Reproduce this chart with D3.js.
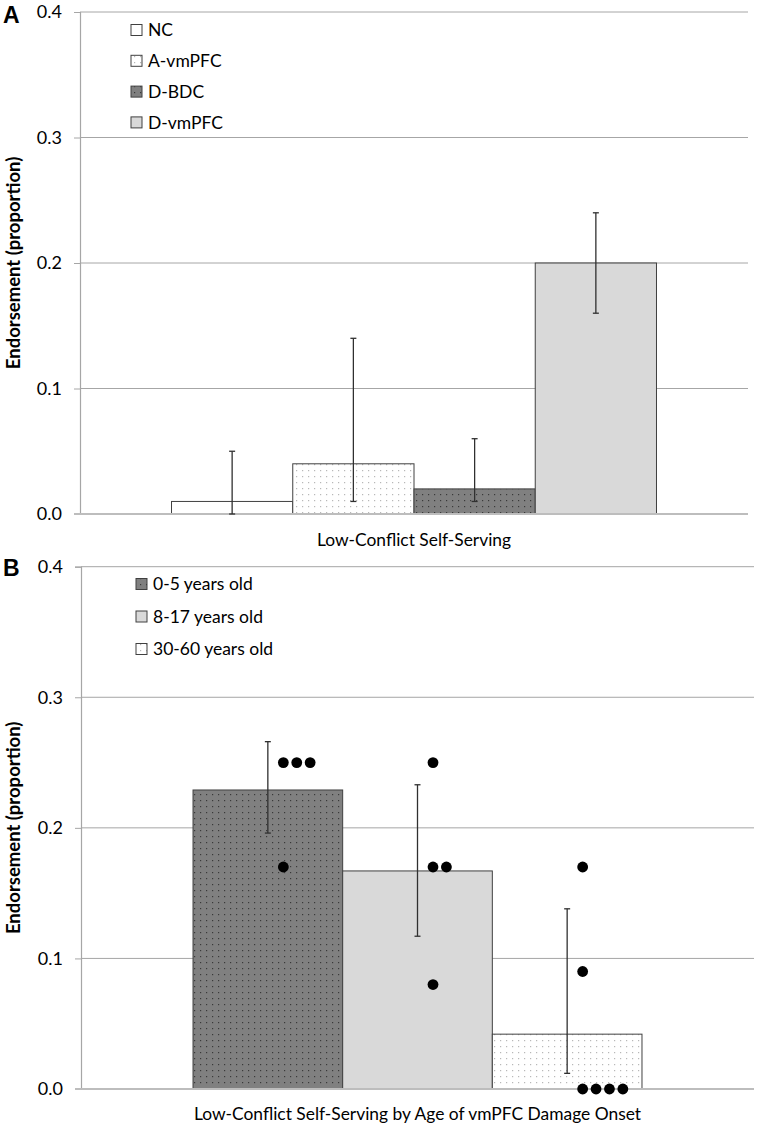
<!DOCTYPE html>
<html><head><meta charset="utf-8">
<script src="https://cdn.jsdelivr.net/npm/d3@7"></script>
<style>body{margin:0;background:#fff}svg{display:block}</style>
</head><body>
<script>
// ---------- DATA ----------
const yTicks = [0.0, 0.1, 0.2, 0.3, 0.4];
const categoryA = ["Low-Conflict Self-Serving"];
const groupsA = ["NC", "A-vmPFC", "D-BDC", "D-vmPFC"];
const valuesA = [0.01, 0.04, 0.02, 0.20];
const errLowA = [0.00, 0.01, 0.01, 0.16];
const errHighA = [0.05, 0.14, 0.06, 0.24];

const categoryB = ["Low-Conflict Self-Serving by Age of vmPFC Damage Onset"];
const groupsB = ["0-5 years old", "8-17 years old", "30-60 years old"];
const valuesB = [0.229, 0.167, 0.042];
const errLowB = [0.196, 0.117, 0.012];
const errHighB = [0.266, 0.233, 0.138];
const pointsB0 = [0.25, 0.25, 0.25, 0.17];
const pointsB1 = [0.25, 0.17, 0.17, 0.08];
const pointsB2 = [0.17, 0.09, 0, 0, 0, 0];

// ---------- SETUP ----------
const W = 759, H = 1138;
const FONT = "Lato, 'Open Sans', sans-serif";
const svg = d3.select("body").append("svg").attr("width", W).attr("height", H);

const defs = svg.append("defs");
function dotPattern(id, bg, dot) {
  const p = defs.append("pattern").attr("id", id).attr("patternUnits", "userSpaceOnUse")
    .attr("width", 6).attr("height", 6);
  p.append("rect").attr("width", 6).attr("height", 6).attr("fill", bg);
  p.append("rect").attr("x", 2).attr("y", 2).attr("width", 1.2).attr("height", 1.2).attr("fill", dot);
}
dotPattern("dotsLight", "#ffffff", "#b8b8b8");
dotPattern("dotsDark", "#808080", "#3a3a3a");

const fillsA = ["#ffffff", "url(#dotsLight)", "url(#dotsDark)", "#d9d9d9"];
const fillsB = ["url(#dotsDark)", "#d9d9d9", "url(#dotsLight)"];

function panel(opts) {
  const g = svg.append("g");
  const y = d3.scaleLinear().domain([0, 0.4]).range([opts.y0, opts.y1]);
  const x0 = d3.scaleBand().domain(opts.category).range([opts.xl, opts.xr])
    .paddingInner(0).paddingOuter(opts.outer);
  const x1 = d3.scaleBand().domain(opts.groups).range([0, x0.bandwidth()]).padding(0);
  const cat = opts.category[0];

  // gridlines
  g.append("g").selectAll("line").data(yTicks.filter(t => t > 0)).join("line")
    .attr("x1", opts.xl).attr("x2", opts.xr)
    .attr("y1", d => y(d)).attr("y2", d => y(d))
    .attr("stroke", "#a6a6a6").attr("stroke-width", 1);

  // y axis
  const yAxis = d3.axisLeft(y).tickValues(yTicks).tickFormat(d3.format(".1f")).tickSize(6).tickPadding(12);
  const ax = g.append("g").attr("transform", `translate(${opts.xl},0)`).call(yAxis);
  ax.select(".domain").attr("stroke", "#a6a6a6").attr("stroke-width", 1.2);
  ax.selectAll(".tick line").attr("stroke", "#a6a6a6");
  ax.selectAll(".tick text").attr("font-family", FONT).attr("font-size", 18).attr("fill", "#000");

  // bars
  g.append("g").selectAll("rect").data(opts.values).join("rect")
    .attr("x", (d, i) => x0(cat) + x1(opts.groups[i]))
    .attr("width", x1.bandwidth())
    .attr("y", d => y(d))
    .attr("height", d => y(0) - y(d))
    .attr("fill", (d, i) => opts.fills[i])
    .attr("stroke", "#404040").attr("stroke-width", 1);

  // baseline
  g.append("line").attr("x1", opts.xl - 6).attr("x2", opts.xr)
    .attr("y1", y(0)).attr("y2", y(0))
    .attr("stroke", "#bdbdbd").attr("stroke-width", 2);

  // error bars
  const eg = g.append("g").attr("stroke", "#303030").attr("stroke-width", 1.3);
  opts.values.forEach((v, i) => {
    const cx = x0(cat) + x1(opts.groups[i]) + x1.bandwidth() / 2;
    const lo = y(opts.errLow[i]), hi = y(opts.errHigh[i]);
    eg.append("line").attr("x1", cx).attr("x2", cx).attr("y1", lo).attr("y2", hi);
    eg.append("line").attr("x1", cx - 3).attr("x2", cx + 3).attr("y1", hi).attr("y2", hi);
    eg.append("line").attr("x1", cx - 3).attr("x2", cx + 3).attr("y1", lo).attr("y2", lo);
  });

  // points
  if (opts.points) {
    const pg = g.append("g");
    opts.points.forEach((arr, i) => {
      const cx = x0(cat) + x1(opts.groups[i]) + x1.bandwidth() / 2;
      const counts = {};
      arr.forEach(v => {
        const k = v.toFixed(3);
        const idx = counts[k] || 0;
        counts[k] = idx + 1;
        pg.append("circle").attr("cx", cx + 15.5 + idx * 13.4).attr("cy", y(v))
          .attr("r", 5.4).attr("fill", "#000");
      });
    });
  }

  // x label
  g.append("text").attr("x", x0(cat) + x0.bandwidth() / 2).attr("y", opts.xlabelY)
    .attr("text-anchor", "middle").attr("font-family", FONT).attr("font-size", 17.4)
    .text(cat);

  // y label
  g.append("text").attr("transform", `translate(${opts.ylabelX},${(opts.y0 + opts.y1) / 2}) rotate(-90)`)
    .attr("text-anchor", "middle").attr("font-family", FONT).attr("font-size", 18.5)
    .attr("font-weight", "bold").text("Endorsement (proportion)");

  // panel letter
  g.append("text").attr("x", 3).attr("y", opts.letterY).attr("font-family", "'Liberation Sans', Arial, sans-serif")
    .attr("font-size", 23).attr("font-weight", "bold").text(opts.letter);

  // legend
  const lg = g.append("g");
  opts.groups.forEach((name, i) => {
    const cy = opts.legY + i * opts.legStep;
    lg.append("rect").attr("x", opts.legX).attr("y", cy - 5.5).attr("width", 11).attr("height", 11)
      .attr("fill", opts.fills[i]).attr("stroke", "#404040").attr("stroke-width", 1);
    lg.append("text").attr("x", opts.legX + 17).attr("y", cy).attr("dy", "0.35em")
      .attr("font-family", FONT).attr("font-size", 17.5).text(name);
  });
}

panel({
  letter: "A", letterY: 23, category: categoryA, groups: groupsA, values: valuesA,
  errLow: errLowA, errHigh: errHighA, fills: fillsA,
  xl: 80, xr: 748, outer: 0.1887, y0: 514, y1: 12,
  xlabelY: 546, ylabelX: 20, legX: 131, legY: 30, legStep: 30.8
});

panel({
  letter: "B", letterY: 576, category: categoryB, groups: groupsB, values: valuesB,
  errLow: errLowB, errHigh: errHighB, fills: fillsB,
  points: [pointsB0, pointsB1, pointsB2],
  xl: 81, xr: 754, outer: 0.2495, y0: 1089, y1: 566.7,
  xlabelY: 1120, ylabelX: 20, legX: 136, legY: 584, legStep: 32.5
});
</script>
</body></html>
